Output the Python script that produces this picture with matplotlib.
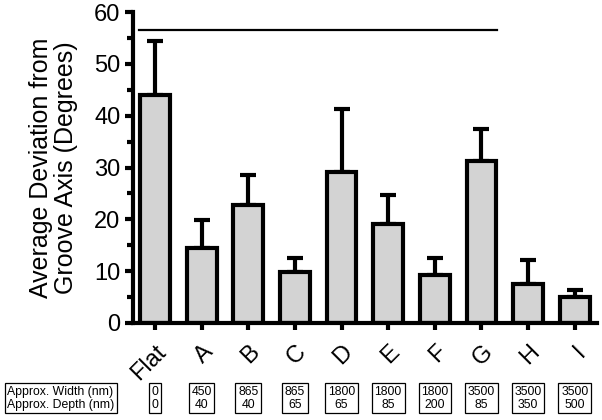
import numpy as np
import matplotlib.pyplot as plt
import matplotlib.transforms as mtransforms
from matplotlib.ticker import MultipleLocator

# datos
categorias = ["Flat", "A", "B", "C", "D", "E", "F", "G", "H", "I"]
media = [44.0, 14.5, 22.7, 9.8, 29.2, 19.2, 9.3, 31.2, 7.5, 5.0]
error_sup = [10.5, 5.3, 5.8, 2.7, 12.1, 5.6, 3.2, 6.3, 4.7, 1.3]
ancho_nm = ["0", "450", "865", "865", "1800", "1800", "1800", "3500", "3500", "3500"]
prof_nm = ["0", "40", "40", "65", "65", "85", "200", "85", "350", "500"]
linea_y = 56.5

plt.rcParams["font.family"] = ["Liberation Sans", "DejaVu Sans"]

fig = plt.figure(figsize=(6.02, 4.2), dpi=100)
ax = fig.add_axes([0.221, 0.231, 0.771, 0.740])

x = np.arange(len(categorias))
ax.bar(x, media, width=0.64, color="#d3d3d3", edgecolor="black", linewidth=3.0, zorder=2)
ax.errorbar(x, media, yerr=[np.zeros(len(media)), error_sup], fmt="none",
            ecolor="black", elinewidth=3.0, capsize=5.5, capthick=3.0, zorder=1)

# linea horizontal superior
ax.plot([-0.34, 7.34], [linea_y, linea_y], color="black", linewidth=1.6)

ax.set_xlim(-0.47, 9.48)
ax.set_ylim(0, 60)
ax.yaxis.set_major_locator(MultipleLocator(10))
ax.yaxis.set_minor_locator(MultipleLocator(5))
ax.set_xticks(x)
ax.set_xticklabels(categorias, rotation=45, ha="right", va="top",
                   rotation_mode="anchor", fontsize=17)
ax.tick_params(axis="y", which="major", labelsize=17, width=3.0, length=6, pad=3)
ax.tick_params(axis="y", which="minor", width=3.0, length=4)
ax.tick_params(axis="x", width=3.0, length=5, pad=8)

for s in ["top", "right"]:
    ax.spines[s].set_visible(False)
for s in ["left", "bottom"]:
    ax.spines[s].set_linewidth(3.0)

ax.set_ylabel("Average Deviation from\nGroove Axis (Degrees)", fontsize=18,
              labelpad=12, linespacing=1.05)

# tabla inferior
trans = mtransforms.blended_transform_factory(ax.transData, fig.transFigure)
caja = dict(boxstyle="square,pad=0.22", facecolor="white", edgecolor="black", linewidth=0.9)
fig.text(0.012, 0.052, "Approx. Width (nm)\nApprox. Depth (nm)", fontsize=8.8,
         ha="left", va="center", linespacing=1.1, bbox=caja)
for i in range(len(categorias)):
    ax.text(x[i], 0.052, ancho_nm[i] + "\n" + prof_nm[i], transform=trans,
            fontsize=8.8, ha="center", va="center", linespacing=1.1,
            bbox=caja, clip_on=False)

plt.savefig("out.png", dpi=100)
